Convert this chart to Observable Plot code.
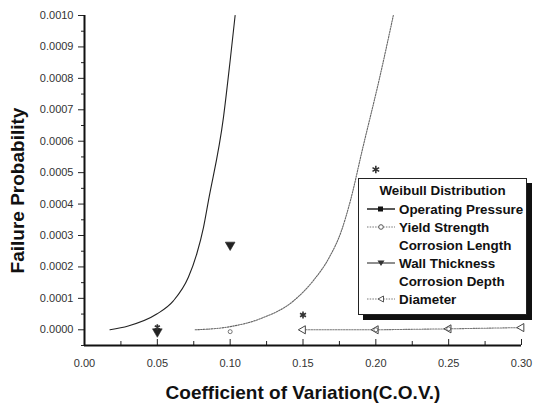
<!DOCTYPE html>
<html>
<head>
<meta charset="utf-8">
<script src="https://cdn.jsdelivr.net/npm/d3@7"></script>
<script src="https://cdn.jsdelivr.net/npm/@observablehq/plot@0.6"></script>
<style>
  html, body { margin: 0; padding: 0; background: #fff; }
  #wrap { position: relative; width: 535px; height: 403px; overflow: hidden; }
  #legend {
    position: absolute; left: 358px; top: 178px; width: 169px; height: 137px;
    border: 1px solid #222; background: #fff; box-shadow: 5px 5px 0 #111;
    font-family: "Liberation Sans", Arial, sans-serif; font-weight: bold; font-size: 13.4px; color: #111;
    box-sizing: border-box;
  }
  #legend .title { position: absolute; left: 0; width: 100%; top: 4px; text-align: center; }
  #legend .row { position: absolute; left: 6px; height: 16px; display: flex; align-items: center; white-space: nowrap; }
  #legend svg { width: 32px; height: 12px; margin-right: 2px; flex: none; }
</style>
</head>
<body>
<div id="wrap"></div>
<script>
// ---- data ----
// Corrosion length curve (solid black)
const curveA_x = [0.0175, 0.030, 0.0496, 0.061, 0.0713, 0.0771, 0.0817, 0.0851, 0.0954, 0.100, 0.1034];
const curveA_y = [0.000000, 0.000012, 0.000050, 0.000092, 0.000167, 0.000242, 0.000326, 0.000411, 0.000676, 0.000857, 0.001000];

// Corrosion depth curve (dotted grey)
const curveB_x = [0.076, 0.100, 0.1206, 0.1435, 0.157, 0.168, 0.176, 0.1825, 0.1906, 0.203, 0.212];
const curveB_y = [0.000000, 0.000010, 0.000035, 0.000092, 0.000156, 0.000230, 0.000310, 0.000410, 0.000570, 0.000810, 0.001000];

// Wall thickness (down triangles)
const wall_x = [0.05, 0.10];
const wall_y = [-0.000006, 0.000270];

// Asterisk markers
const star_x = [0.05, 0.15, 0.20];
const star_y = [0.000008, 0.000047, 0.000510];

// Diameter (dotted line with left triangles)
const dia_x = [0.15, 0.20, 0.25, 0.30];
const dia_y = [0.000000, 0.000000, 0.000003, 0.000007];

// Yield strength (small circles)
const yield_x = [0.10, 0.20, 0.25];
const yield_y = [-0.000006, 0.000000, 0.000003];

const yMajor = d3.range(0, 11).map(i => i * 0.0001);
const yMinor = d3.range(0, 21).map(i => i * 0.00005).filter((d, i) => i % 2 === 1).concat([-0.00005]);
const xMajor = [0, 0.05, 0.10, 0.15, 0.20, 0.25, 0.30];
const xMinor = [0.025, 0.075, 0.125, 0.175, 0.225, 0.275];

const xTitle = "Coefficient of Variation(C.O.V.)";
const yTitle = "Failure Probability";

const zip = (xs, ys) => xs.map((x, i) => ({x, y: ys[i]}));

const font = '"Liberation Sans", Arial, sans-serif';

const chart = Plot.plot({
  width: 535,
  height: 403,
  marginLeft: 84,
  marginRight: 14,
  marginTop: 15,
  marginBottom: 58,
  style: {fontFamily: font, background: "#fff"},
  x: {domain: [0, 0.30], axis: null},
  y: {domain: [-0.00005, 0.001], axis: null},
  marks: [
    // y axis ticks & labels
    Plot.axisY({ticks: yMajor, label: null, tickSize: 6, tickPadding: 5, tickFormat: d3.format(".4f"),
      fontSize: 11, stroke: "#222", fill: "#333", style: {letterSpacing: "0.4px"}}),
    Plot.axisY({ticks: yMinor, label: null, tickSize: 3, text: null, stroke: "#222"}),
    // x axis ticks (inward) and labels
    Plot.axisX({ticks: xMajor, label: null, anchor: "bottom", tickSize: 6, dy: -6, text: null, stroke: "#222"}),
    Plot.axisX({ticks: xMinor, label: null, anchor: "bottom", tickSize: 4, dy: -4, text: null, stroke: "#222"}),
    Plot.axisX({ticks: xMajor, label: null, anchor: "bottom", tickSize: 0, tickPadding: 14, tickFormat: d3.format(".2f"),
      fontSize: 11, fill: "#333", style: {letterSpacing: "0.4px"}}),
    // axis lines
    Plot.ruleX([0], {y1: -0.00005, y2: 0.001, stroke: "#111", strokeWidth: 2}),
    Plot.ruleY([-0.00005], {x1: 0, x2: 0.30, stroke: "#111", strokeWidth: 2}),
    // curves
    Plot.line(zip(curveA_x, curveA_y), {x: "x", y: "y", curve: "monotone-x", stroke: "#222", strokeWidth: 1.1, clip: true}),
    Plot.line(zip(curveB_x, curveB_y), {x: "x", y: "y", curve: "monotone-x", stroke: "#666", strokeWidth: 1.1, strokeDasharray: "1.5,1.2", clip: true}),
    // diameter
    Plot.line(zip(dia_x, dia_y), {x: "x", y: "y", stroke: "#777", strokeWidth: 1.1, strokeDasharray: "1.5,1.2"}),
    Plot.dot(zip(dia_x, dia_y), {x: "x", y: "y", symbol: "triangle", rotate: -90, r: 3, stroke: "#444", strokeWidth: 1, fill: "#fff"}),
    Plot.dot(zip(yield_x, yield_y), {x: "x", y: "y", symbol: "circle", r: 2, stroke: "#555", strokeWidth: 0.8, fill: "none"}),
    // wall thickness
    Plot.dot(zip(wall_x, wall_y), {x: "x", y: "y", symbol: "triangle", rotate: 180, r: 3.6, fill: "#222", stroke: "#222", strokeWidth: 0.6}),
    // asterisks
    Plot.dot(zip(star_x, star_y), {x: "x", y: "y", symbol: "asterisk", r: [2.2, 3, 3.8], stroke: "#333", strokeWidth: 1.6}),
    // axis titles
    Plot.text([xTitle], {frameAnchor: "bottom", dy: 47, lineAnchor: "middle",
      fontSize: 19, fontWeight: "bold", fill: "#111", fontFamily: font}),
    Plot.text([yTitle], {frameAnchor: "left", dx: -67, dy: 10, rotate: -90, textAnchor: "middle", lineAnchor: "middle",
      fontSize: 19, fontWeight: "bold", fill: "#111", fontFamily: font})
  ]
});

const wrap = document.getElementById("wrap");
wrap.appendChild(chart);

// ---- legend ----
const legendTitle = "Weibull Distribution";
const legendItems = [
  {label: "Operating Pressure", kind: "square"},
  {label: "Yield Strength", kind: "circle"},
  {label: "Corrosion Length", kind: "none"},
  {label: "Wall Thickness", kind: "tri"},
  {label: "Corrosion Depth", kind: "none"},
  {label: "Diameter", kind: "left"}
];
const legend = document.createElement("div");
legend.id = "legend";
legend.innerHTML = `<div class="title">${legendTitle}</div>`;
legendItems.forEach((it, i) => {
  const row = document.createElement("div");
  row.className = "row";
  row.style.top = (22 + i * 18) + "px";
  let sym = "";
  if (it.kind === "square") sym = `<line x1="2" y1="6" x2="30" y2="6" stroke="#111" stroke-width="1.4"/><rect x="13" y="3.5" width="5" height="5" fill="#111"/>`;
  if (it.kind === "circle") sym = `<line x1="2" y1="6" x2="30" y2="6" stroke="#777" stroke-width="1" stroke-dasharray="1.5,1.2"/><circle cx="16" cy="6" r="2.3" fill="#fff" stroke="#555"/>`;
  if (it.kind === "tri") sym = `<line x1="2" y1="6" x2="30" y2="6" stroke="#444" stroke-width="1.2"/><path d="M12.5,3.5 L19.5,3.5 L16,9 Z" fill="#333"/>`;
  if (it.kind === "left") sym = `<line x1="2" y1="6" x2="30" y2="6" stroke="#777" stroke-width="1" stroke-dasharray="1.5,1.2"/><path d="M13,6 L18.5,3 L18.5,9 Z" fill="#fff" stroke="#555"/>`;
  row.innerHTML = `<svg viewBox="0 0 32 12">${sym}</svg><span>${it.label}</span>`;
  legend.appendChild(row);
});
wrap.appendChild(legend);
</script>
</body>
</html>
